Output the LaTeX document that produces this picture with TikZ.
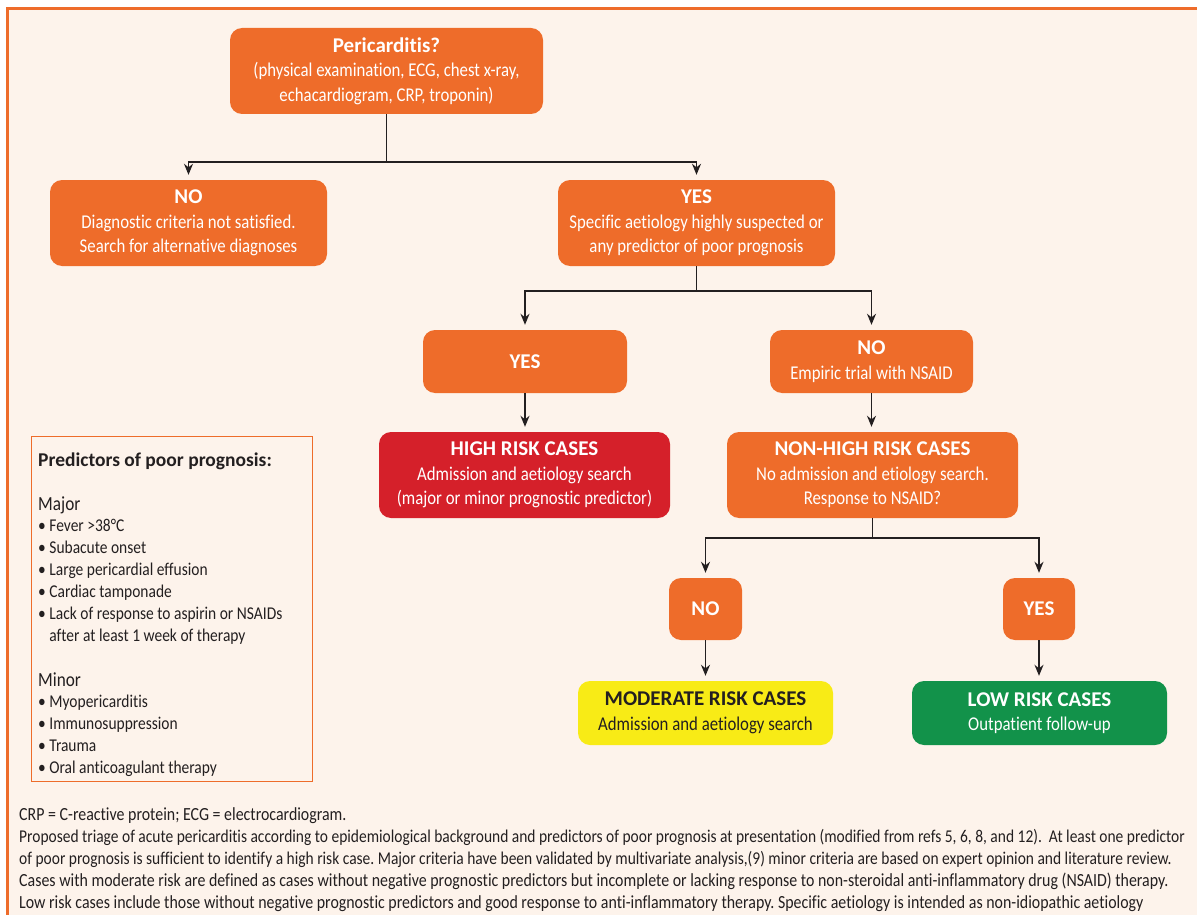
\documentclass[tikz,border=0pt]{standalone}
\usepackage{fontspec}
\setmainfont{Carlito}[FakeStretch=0.86, Ligatures=NoCommon]
\newfontfamily\hdfont{Carlito}[FakeStretch=1.0, Ligatures=NoCommon]
\usetikzlibrary{arrows.meta,calc}
\definecolor{bg}{HTML}{FDF3EB}
\definecolor{orng}{HTML}{EE6C2A}
\definecolor{redb}{HTML}{D5202A}
\definecolor{yelb}{HTML}{F8EB16}
\definecolor{grnb}{HTML}{12924A}
\definecolor{ink}{HTML}{231F20}
\newcommand{\hdtxt}[1]{{\hdfont\bfseries\fontsize{21}{24.5}\selectfont #1}}
\frenchspacing
\begin{document}
\begin{tikzpicture}[x=1pt,y=-1pt,
  box/.style={fill=orng, rounded corners=12pt, text=white, align=center, inner sep=0pt,
    font=\fontsize{19.5}{24.5}\selectfont},
  ln/.style={draw=ink, line width=1.4pt},
  arr/.style={ln, -{Stealth[length=11pt,width=9pt,inset=3.5pt]}, shorten >=5pt},
  ptxt/.style={anchor=base west, inner sep=0pt, text=ink, font=\fontsize{18}{22}\selectfont},
  captxt/.style={anchor=base west, inner sep=0pt, text=ink, font=\fontsize{18.5}{22}\selectfont\frenchspacing},
  captight/.style={captxt, font=\fontsize{18}{22}\selectfont\frenchspacing}]
\useasboundingbox (0,0) rectangle (1197,915);
\clip (0,0) rectangle (1197,915);
\fill[white] (0,0) rectangle (1197,915);
\fill[bg] (7.5,9) rectangle (1220,930);
\draw[orng, line width=3pt] (7.5,930) -- (7.5,9) -- (1220,9);

% flowchart boxes
\node[box, minimum width=313pt, minimum height=86pt] (peri) at (386.5,71)
  {\hdtxt{Pericarditis?}\\(physical examination, ECG, chest x-ray,\\echacardiogram, CRP, troponin)};
\node[box, minimum width=277pt, minimum height=86pt] (no1) at (188.5,223)
  {\hdtxt{NO}\\Diagnostic criteria not satisfied.\\Search for alternative diagnoses};
\node[box, minimum width=277pt, minimum height=86pt] (yes1) at (696.5,223)
  {\hdtxt{YES}\\Specific aetiology highly suspected or\\any predictor of poor prognosis};
\node[box, minimum width=204pt, minimum height=63pt] (yes2) at (525,361.5) {\hdtxt{YES}};
\node[box, minimum width=203pt, minimum height=63pt] (no2) at (871.5,361.5)
  {\hdtxt{NO}\\Empiric trial with NSAID};
\node[box, fill=redb, minimum width=291pt, minimum height=86pt] (high) at (524.5,475)
  {\hdtxt{HIGH RISK CASES}\\Admission and aetiology search\\(major or minor prognostic predictor)};
\node[box, minimum width=291pt, minimum height=86pt] (nonhigh) at (872.5,475)
  {\hdtxt{NON-HIGH RISK CASES}\\No admission and etiology search.\\Response to NSAID?};
\node[box, minimum width=73pt, minimum height=62pt] (no3) at (705.5,609) {\hdtxt{NO}};
\node[box, minimum width=72pt, minimum height=62pt] (yes3) at (1039,609) {\hdtxt{YES}};
\node[box, fill=yelb, text=ink, minimum width=255pt, minimum height=64pt] (mod) at (705.5,713)
  {\hdtxt{MODERATE RISK CASES}\\Admission and aetiology search};
\node[box, fill=grnb, minimum width=255pt, minimum height=64pt] (low) at (1039.5,713)
  {\hdtxt{LOW RISK CASES}\\Outpatient follow-up};

% connectors
\coordinate (j1) at (386.5,162);
\draw[ln] (peri.south) -- (j1);
\draw[arr] (j1) -| (no1.north);
\draw[arr] (j1) -| (yes1.north);
\coordinate (j2) at (696.5,291);
\draw[ln] (yes1.south) -- (j2);
\draw[arr] (j2) -| (yes2.north);
\draw[arr] (j2) -| (no2.north);
\draw[arr] (yes2.south) -- (yes2.south |- high.north);
\draw[arr] (no2.south) -- (no2.south |- nonhigh.north);
\coordinate (j3) at (872.5,538);
\draw[ln] (nonhigh.south) -- (j3);
\draw[arr] (j3) -| (no3.north);
\draw[arr] (j3) -| (yes3.north);
\draw[arr] (no3.south) -- (no3.south |- mod.north);
\draw[arr] (yes3.south) -- (yes3.south |- low.north);

% predictors box
\node[draw=orng, line width=1pt, minimum width=281pt, minimum height=345pt, inner sep=0pt] (pbox) at (171.5,608.5) {};
\node[ptxt, font=\hdfont\bfseries\fontsize{19.5}{22}\selectfont] (p0) at (38,466) {Predictors of poor prognosis:};
\node[ptxt, font=\fontsize{20}{22}\selectfont] (p1) at (38,510) {Major};
\node[ptxt] (p2) at (38,531) {\textbullet\ Fever >38°C};
\node[ptxt] (p3) at (38,553) {\textbullet\ Subacute onset};
\node[ptxt] (p4) at (38,575) {\textbullet\ Large pericardial effusion};
\node[ptxt] (p5) at (38,597) {\textbullet\ Cardiac tamponade};
\node[ptxt] (p6) at (38,619) {\textbullet\ Lack of response to aspirin or NSAIDs};
\node[ptxt] (p7) at (38,641) {\phantom{\textbullet}\ after at least 1 week of therapy};
\node[ptxt, font=\fontsize{20}{22}\selectfont] (p8) at (38,686) {Minor};
\node[ptxt] (p9) at (38,707) {\textbullet\ Myopericarditis};
\node[ptxt] (p10) at (38,729) {\textbullet\ Immunosuppression};
\node[ptxt] (p11) at (38,751) {\textbullet\ Trauma};
\node[ptxt] (p12) at (38,773) {\textbullet\ Oral anticoagulant therapy};

% caption
\node[captxt] (c1) at (19,820) {CRP = C-reactive protein; ECG = electrocardiogram.};
\node[captight] (c2) at (19,842) {Proposed triage of acute pericarditis according to epidemiological background and predictors of poor prognosis at presentation (modified from refs 5, 6, 8, and 12).\ \ At least one predictor};
\node[captight] (c3) at (19,864) {of poor prognosis is sufficient to identify a high risk case. Major criteria have been validated by multivariate analysis,(9) minor criteria are based on expert opinion and literature review.};
\node[captxt] (c4) at (19,886) {Cases with moderate risk are defined as cases without negative prognostic predictors but incomplete or lacking response to non-steroidal anti-inflammatory drug (NSAID) therapy.};
\node[captxt] (c5) at (19,908) {Low risk cases include those without negative prognostic predictors and good response to anti-inflammatory therapy. Specific aetiology is intended as non-idiopathic aetiology};
\end{tikzpicture}
\end{document}
